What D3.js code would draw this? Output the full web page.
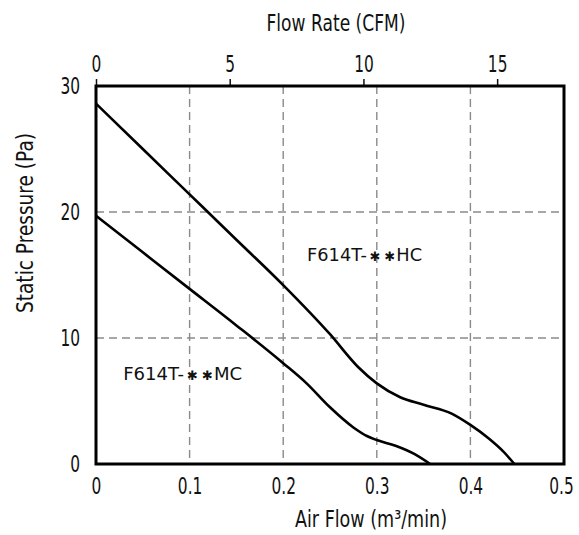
<!DOCTYPE html>
<html>
<head>
<meta charset="utf-8">
<script src="https://cdn.jsdelivr.net/npm/d3@7"></script>
<style>
  body { margin: 0; background: #fff; }
  text { font-family: "DejaVu Sans", sans-serif; fill: #111; }
</style>
</head>
<body>
<div class="canvas"></div>
<script>
// curve data (flow in m3/min, pressure in Pa)
const hcFlow = [0, 0.05, 0.1, 0.15, 0.2, 0.25, 0.28, 0.3, 0.325, 0.35, 0.38, 0.4, 0.42, 0.435, 0.447];
const hcPressure = [28.6, 25.0, 21.4, 17.8, 14.2, 10.3, 7.7, 6.4, 5.3, 4.7, 4.0, 3.1, 2.0, 1.0, 0];
const mcFlow = [0, 0.05, 0.1, 0.15, 0.2, 0.225, 0.25, 0.275, 0.29, 0.3, 0.32, 0.34, 0.357];
const mcPressure = [19.7, 16.8, 13.9, 11.0, 8.0, 6.4, 4.5, 2.9, 2.2, 1.9, 1.45, 0.8, 0];

// model names split round the two wildcard marks
const seriesNames = [["F614T-", "HC"], ["F614T-", "MC"]];
const flowTicks = [0, 0.1, 0.2, 0.3, 0.4, 0.5];
const cfmTicks = [0, 5, 10, 15];
const pressureTicks = [0, 10, 20, 30];
const cfmPerM3 = 35;

const dims = { width: 579, height: 535 };
const margin = { top: 86, right: 15, bottom: 71, left: 96 };
const w = dims.width - margin.left - margin.right;
const h = dims.height - margin.top - margin.bottom;

const svg = d3
  .select(".canvas")
  .append("svg")
  .attr("width", dims.width)
  .attr("height", dims.height);

const graph = svg
  .append("g")
  .attr("transform", `translate(${margin.left}, ${margin.top})`);

const x = d3.scaleLinear().domain([0, 0.5]).range([0, w]);
const xTop = d3.scaleLinear().domain([0, 0.5 * cfmPerM3]).range([0, w]);
const y = d3.scaleLinear().domain([0, 30]).range([h, 0]);

// the original font is tall and narrow: squeeze glyphs sideways
const squeeze = (sel, factor) =>
  sel.each(function () {
    const len = this.getComputedTextLength();
    d3.select(this).attr("textLength", len * factor).attr("lengthAdjust", "spacingAndGlyphs");
  });

// dashed grid
graph
  .selectAll("line.vgrid")
  .data(flowTicks.slice(1, -1))
  .enter()
  .append("line")
  .attr("x1", (d) => x(d))
  .attr("x2", (d) => x(d))
  .attr("y1", 0)
  .attr("y2", h)
  .attr("stroke", "#8a8a8a")
  .attr("stroke-width", 1.4)
  .attr("stroke-dasharray", "8,5");

graph
  .selectAll("line.hgrid")
  .data(pressureTicks.slice(1, -1))
  .enter()
  .append("line")
  .attr("x1", 0)
  .attr("x2", w)
  .attr("y1", (d) => y(d))
  .attr("y2", (d) => y(d))
  .attr("stroke", "#8a8a8a")
  .attr("stroke-width", 1.4)
  .attr("stroke-dasharray", "8,5");

// bottom axis (labels only)
const xAxis = d3.axisBottom(x).tickValues(flowTicks).tickSize(0).tickPadding(14)
  .tickFormat((d) => (d === 0 ? "0" : d3.format(".1f")(d)));
const gx = graph.append("g").attr("transform", `translate(0, ${h})`).call(xAxis);

// top axis in CFM with small outer ticks
const xTopAxis = d3.axisTop(xTop).tickValues(cfmTicks).tickSize(7).tickPadding(7);
const gxt = graph.append("g").call(xTopAxis);

// left axis (labels only)
const yAxis = d3.axisLeft(y).tickValues(pressureTicks).tickSize(0).tickPadding(16);
const gy = graph.append("g").call(yAxis);

[gx, gxt, gy].forEach((g) => {
  g.select(".domain").remove();
  g.selectAll("text").attr("font-size", 23).attr("font-family", null).attr("fill", "#111");
  g.selectAll("line").attr("stroke", "#111").attr("stroke-width", 1.5);
});
squeeze(gxt.selectAll("text"), 0.67);
squeeze(gy.selectAll("text"), 0.67);
// bottom labels: squeeze with a transform so the box matches the ink
gx.selectAll(".tick text")
  .attr("transform", (d) => (d === 0.5 ? "translate(-3,0) scale(0.67,1)" : "scale(0.67,1)"));

// frame
graph
  .append("rect")
  .attr("width", w)
  .attr("height", h)
  .attr("fill", "none")
  .attr("stroke", "#000")
  .attr("stroke-width", 3);

// curves
const line = d3
  .line()
  .x((d) => x(d[0]))
  .y((d) => y(d[1]))
  .curve(d3.curveMonotoneX);

const curves = [
  d3.zip(hcFlow, hcPressure),
  d3.zip(mcFlow, mcPressure),
];

graph
  .selectAll("path.curve")
  .data(curves)
  .enter()
  .append("path")
  .attr("class", "curve")
  .attr("d", line)
  .attr("fill", "none")
  .attr("stroke", "#000")
  .attr("stroke-width", 2.6);

// series labels
const seriesLabel = (name, lx, ly, len) => {
  const t = graph
    .append("text")
    .attr("x", x(lx))
    .attr("y", y(ly))
    .attr("dy", "0.35em")
    .attr("font-size", 18)
    .attr("textLength", len)
    .attr("lengthAdjust", "spacingAndGlyphs");
  t.append("tspan").text(name[0]);
  t.append("tspan").attr("font-size", 13).attr("dx", 3).text("\u2731");
  t.append("tspan").attr("font-size", 13).attr("dx", 4).text("\u2731");
  t.append("tspan").attr("dx", 1).text(name[1]);
};
seriesLabel(seriesNames[0], 0.2255, 16.6, 115);
seriesLabel(seriesNames[1], 0.029, 7.2, 119);

// axis titles
svg
  .append("text")
  .attr("x", 336)
  .attr("y", 31)
  .attr("text-anchor", "middle")
  .attr("font-size", 23)
  .attr("textLength", 139)
  .attr("lengthAdjust", "spacingAndGlyphs")
  .text("Flow Rate (CFM)");

svg
  .append("text")
  .attr("x", 371)
  .attr("y", 527)
  .attr("text-anchor", "middle")
  .attr("font-size", 23)
  .attr("textLength", 152)
  .attr("lengthAdjust", "spacingAndGlyphs")
  .text("Air Flow (m\u00b3/min)");

svg
  .append("text")
  .attr("transform", "translate(33, 223) rotate(-90)")
  .attr("text-anchor", "middle")
  .attr("font-size", 23)
  .attr("textLength", 180)
  .attr("lengthAdjust", "spacingAndGlyphs")
  .text("Static Pressure (Pa)");
</script>
</body>
</html>
